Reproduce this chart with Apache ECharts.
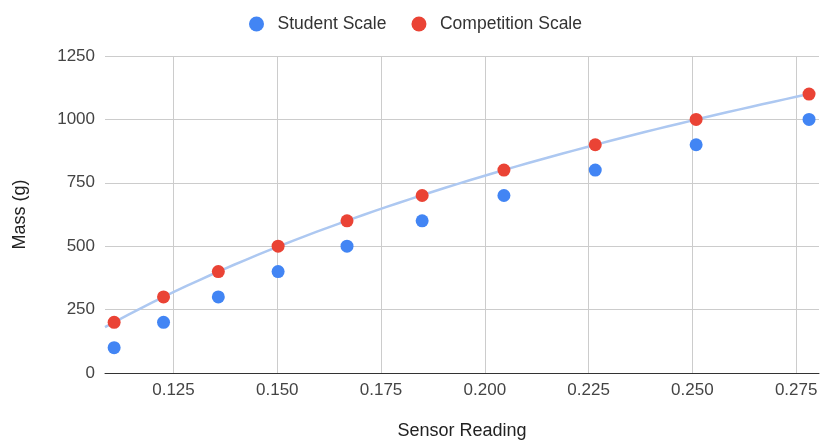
<!DOCTYPE html>
<html>
<head>
<meta charset="utf-8">
<script src="https://cdn.jsdelivr.net/npm/echarts@6/dist/echarts.min.js"></script>
<style>html,body{margin:0;padding:0;background:#fff;}#c{width:821px;height:445px;}</style>
</head>
<body>
<div id="c"></div>
<script>
const sensorReading = [0.1107, 0.1226, 0.1358, 0.1502, 0.1668, 0.1849, 0.2046, 0.2266, 0.2509, 0.2781];
const studentMass = [100, 200, 300, 400, 500, 600, 700, 800, 900, 1000];
const competitionMass = [200, 300, 400, 500, 600, 700, 800, 900, 1000, 1100];
const xTickValues = [0.125, 0.150, 0.175, 0.200, 0.225, 0.250, 0.275];
const xRange = [0.1085, 0.2805];
const yRange = [0, 1250];

// logarithmic trendline (least squares) fitted to the competition series
function logFit(xs, ys) {
  const n = xs.length;
  let sx = 0, sy = 0, sxx = 0, sxy = 0;
  for (let i = 0; i < n; i++) {
    const lx = Math.log(xs[i]);
    sx += lx; sy += ys[i]; sxx += lx * lx; sxy += lx * ys[i];
  }
  const a = (n * sxy - sx * sy) / (n * sxx - sx * sx);
  const b = (sy - a * sx) / n;
  return x => a * Math.log(x) + b;
}
const fit = logFit(sensorReading, competitionMass);
const trend = [];
const tStart = xRange[0], tEnd = sensorReading[sensorReading.length - 1];
for (let i = 0; i <= 60; i++) {
  const x = tStart + (tEnd - tStart) * i / 60;
  trend.push([x, fit(x)]);
}

const chart = echarts.init(document.getElementById('c'), null, {renderer: 'canvas'});
const font = 'Arial, "Liberation Sans", sans-serif';
chart.setOption({
  animation: false,
  backgroundColor: '#ffffff',
  textStyle: {fontFamily: font},
  legend: {
    data: ['Student Scale', 'Competition Scale'],
    top: 10,
    left: 244,
    itemWidth: 32, itemHeight: 15, itemGap: 25,
    icon: 'circle',
    textStyle: {fontSize: 17.5, color: '#333', fontFamily: font}
  },
  grid: {left: 105, right: 2, top: 56, bottom: 70, containLabel: false},
  xAxis: {
    type: 'value',
    min: xRange[0], max: xRange[1],
    name: 'Sensor Reading',
    nameLocation: 'middle',
    nameGap: 49,
    nameTextStyle: {fontSize: 18, color: '#222', fontFamily: font},
    axisLine: {show: true, lineStyle: {color: '#333', width: 1}},
    axisTick: {show: false, customValues: xTickValues},
    axisLabel: {customValues: xTickValues, formatter: v => v.toFixed(3), fontSize: 17, color: '#444', margin: 9, fontFamily: font},
    splitLine: {show: true, lineStyle: {color: '#cccccc', width: 1}}
  },
  yAxis: {
    type: 'value',
    min: yRange[0], max: yRange[1], interval: 250,
    name: 'Mass (g)',
    nameLocation: 'middle',
    nameGap: 76,
    nameTextStyle: {fontSize: 18, color: '#222', fontFamily: font},
    axisLine: {show: false},
    axisTick: {show: false},
    axisLabel: {formatter: v => String(v), fontSize: 17, color: '#444', margin: 10, fontFamily: font},
    splitLine: {show: true, lineStyle: {color: '#cccccc', width: 1}}
  },
  series: [
    {
      name: 'Trendline',
      type: 'line',
      data: trend,
      showSymbol: false,
      smooth: false,
      lineStyle: {color: '#adc8f1', width: 2.5},
      z: 1,
      silent: true
    },
    {
      name: 'Student Scale',
      type: 'scatter',
      data: sensorReading.map((x, i) => [x, studentMass[i]]),
      symbolSize: 13,
      itemStyle: {color: '#4285f4', opacity: 1},
      z: 3
    },
    {
      name: 'Competition Scale',
      type: 'scatter',
      data: sensorReading.map((x, i) => [x, competitionMass[i]]),
      symbolSize: 13,
      itemStyle: {color: '#ea4335', opacity: 1},
      z: 3
    }
  ]
});
</script>
</body>
</html>
